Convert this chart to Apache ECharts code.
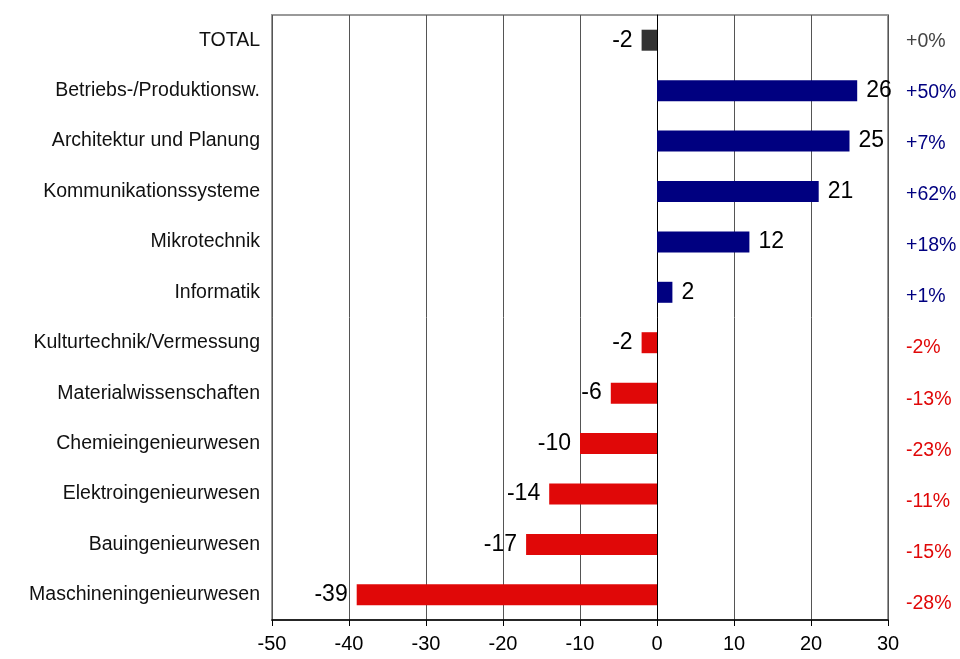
<!DOCTYPE html>
<html>
<head>
<meta charset="utf-8">
<script src="https://cdn.jsdelivr.net/npm/echarts@6/dist/echarts.min.js"></script>
<style>
  html, body { margin: 0; padding: 0; background: #fff; }
  #main { width: 960px; height: 659px; }
</style>
</head>
<body>
<div id="main"></div>
<script>
// Kategorien von oben nach unten
var categories = ['TOTAL', 'Betriebs-/Produktionsw.', 'Architektur und Planung', 'Kommunikationssysteme',
    'Mikrotechnik', 'Informatik', 'Kulturtechnik/Vermessung', 'Materialwissenschaften',
    'Chemieingenieurwesen', 'Elektroingenieurwesen', 'Bauingenieurwesen', 'Maschineningenieurwesen'];
var values = [-2, 26, 25, 21, 12, 2, -2, -6, -10, -14, -17, -39];
var percents = ['+0%', '+50%', '+7%', '+62%', '+18%', '+1%', '-2%', '-13%', '-23%', '-11%', '-15%', '-28%'];

var navy = '#000080', red = '#e00808', grey = '#333333';

function barColor(i) {
    if (i === 0) return grey;
    return values[i] >= 0 ? navy : red;
}
function pctColor(i) {
    if (i === 0) return '#444';
    return percents[i].charAt(0) === '+' ? navy : red;
}

var myChart = echarts.init(document.getElementById('main'));
var option = {
    backgroundColor: '#fff',
    animation: false,
    textStyle: { fontFamily: 'Liberation Sans, Arial, sans-serif' },
    grid: [
        { left: 272, right: 72, top: 15, bottom: 39, show: true, borderColor: '#999', borderWidth: 2 },
        { left: 272, right: 72, top: 16, bottom: 30 }
    ],
    xAxis: [{
        type: 'value',
        min: -50, max: 30, interval: 10,
        axisLine: { show: true, lineStyle: { color: '#000', width: 1.5 } },
        axisTick: { show: true, length: 6, lineStyle: { color: '#000' } },
        axisLabel: { fontSize: 20, color: '#000', margin: 14 },
        splitLine: { show: true, lineStyle: { color: '#555', width: 1 } }
    }, {
        type: 'value', gridIndex: 1, min: 0, max: 1, show: false
    }],
    yAxis: [{
        type: 'category',
        data: categories,
        inverse: true,
        axisLine: { show: true, onZero: true, lineStyle: { color: '#000', width: 1 } },
        axisTick: { show: false },
        axisLabel: { fontSize: 19.5, color: '#111', margin: 12, padding: [4, 0, 0, 0] },
        splitLine: { show: false }
    }, {
        type: 'category',
        gridIndex: 1,
        data: percents,
        inverse: true,
        position: 'right',
        axisLine: { show: false },
        axisTick: { show: false },
        axisLabel: {
            fontSize: 19.5, margin: 18, align: 'left', padding: [2, 0, 0, 0],
            color: function (value, index) { return pctColor(index); }
        }
    }],
    series: [{
        type: 'bar',
        barWidth: 21,
        data: values.map(function (v, i) {
            return {
                value: v,
                itemStyle: { color: barColor(i) },
                label: { position: v >= 0 ? 'right' : 'left' }
            };
        }),
        label: {
            show: true,
            fontSize: 23,
            color: '#000',
            distance: 9,
            padding: [4, 0, 0, 0]
        }
    }]
};
myChart.setOption(option);
</script>
</body>
</html>
